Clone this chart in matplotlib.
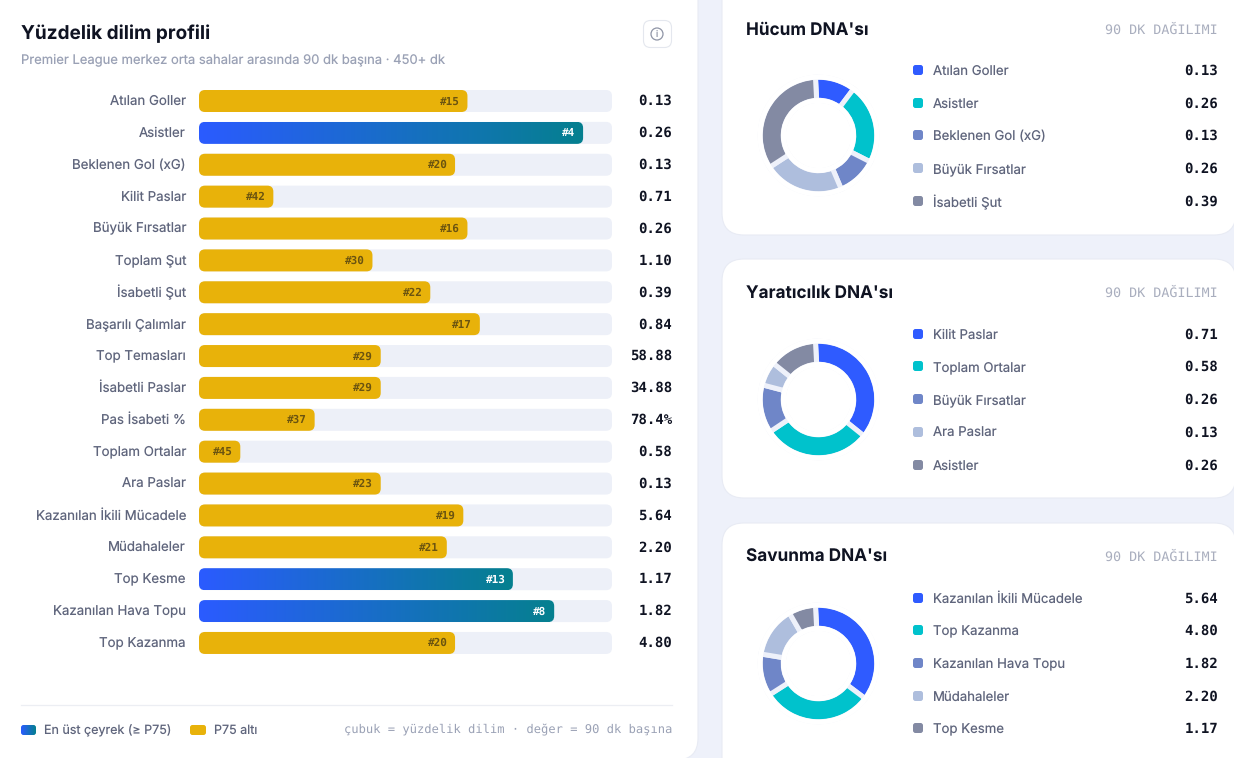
import numpy as np
import matplotlib
matplotlib.use('Agg')
from matplotlib import pyplot as plt
from matplotlib.patches import FancyBboxPatch, Circle
from matplotlib.colors import LinearSegmentedColormap
from matplotlib.transforms import ScaledTranslation

plt.rcParams['font.family'] = ['Inter', 'DejaVu Sans']
plt.rcParams['text.hinting'] = 'no_hinting'

# percentile profile
metrics = ['Atılan Goller', 'Asistler', 'Beklenen Gol (xG)', 'Kilit Paslar', 'Büyük Fırsatlar',
           'Toplam Şut', 'İsabetli Şut', 'Başarılı Çalımlar', 'Top Temasları', 'İsabetli Paslar',
           'Pas İsabeti %', 'Toplam Ortalar', 'Ara Paslar', 'Kazanılan İkili Mücadele',
           'Müdahaleler', 'Top Kesme', 'Kazanılan Hava Topu', 'Top Kazanma']
percentiles = [65, 93, 62, 18, 65, 42, 56, 68, 44, 44, 28, 10, 44, 64, 60, 76, 86, 62]
ranks = [15, 4, 20, 42, 16, 30, 22, 17, 29, 29, 37, 45, 23, 19, 21, 13, 8, 20]
per90 = ['0.13', '0.26', '0.13', '0.71', '0.26', '1.10', '0.39', '0.84', '58.88', '34.88',
         '78.4%', '0.58', '0.13', '5.64', '2.20', '1.17', '1.82', '4.80']

# DNA cards
attack_names = ['Atılan Goller', 'Asistler', 'Beklenen Gol (xG)', 'Büyük Fırsatlar', 'İsabetli Şut']
attack_vals = [0.13, 0.26, 0.13, 0.26, 0.39]
create_names = ['Kilit Paslar', 'Toplam Ortalar', 'Büyük Fırsatlar', 'Ara Paslar', 'Asistler']
create_vals = [0.71, 0.58, 0.26, 0.13, 0.26]
defend_names = ['Kazanılan İkili Mücadele', 'Top Kazanma', 'Kazanılan Hava Topu', 'Müdahaleler', 'Top Kesme']
defend_vals = [5.64, 4.80, 1.82, 2.20, 1.17]

W, H = 1234, 758
BG = '#EEF1FA'
TRACK = '#EDF0F8'
GOLD = '#E8B20A'
DARK = '#0F1322'
LABEL = '#5F657C'
MUTED = '#9AA1B5'
MONO = 'DejaVu Sans Mono'
donut_cols = ['#2F5BFF', '#00C2CC', '#6F86C8', '#AEBEDD', '#838AA3']
grad = LinearSegmentedColormap.from_list('g', ['#2B5BFF', '#05808F'])
grad_row = np.linspace(0, 1, 256).reshape(1, -1)


def px(size):
    return size * 0.72


def box_axes(x0, y0, x1, y1, **kw):
    return fig.add_axes([x0 / W, 1 - y1 / H, (x1 - x0) / W, (y1 - y0) / H], **kw)


def round_box(ax, x0, y0, w, h, r, **kw):
    p = FancyBboxPatch((x0, y0), w, h, boxstyle=f'round,pad=0,rounding_size={r}', **kw)
    ax.add_patch(p)
    return p


fig = plt.figure(figsize=(W / 100, H / 100), dpi=100, facecolor=BG)

# page layer in pixel coordinates
page = box_axes(0, 0, W, H)
page.set_xlim(0, W)
page.set_ylim(H, 0)
page.axis('off')

round_box(page, -40, -40, 738, 800, 22, fc='white', ec='#E8EBF4', lw=0.8)
for top, bottom in [(-40, 235), (259, 498), (523, 800)]:
    round_box(page, 722, top, 514, bottom - top, 22, fc='white', ec='#E8EBF4', lw=0.8)

page.text(21, 33.5, 'Yüzdelik dilim profili', fontsize=px(19), fontweight='bold', color=DARK, va='center')
page.text(21, 59.5, 'Premier League merkez orta sahalar arasında 90 dk başına · 450+ dk',
          fontsize=px(13), color=MUTED, va='center')

# info button
round_box(page, 643.5, 20.5, 28, 27, 7, fc='white', ec='#E4E7EE', lw=0.8)
page.add_patch(Circle((657, 34), 6, fc='none', ec='#8F95A6', lw=0.9))
page.text(657, 34.3, 'i', fontsize=px(9), color='#8F95A6', ha='center', va='center')

# footer
page.plot([21, 672], [705, 705], color='#ECEEF3', lw=0.9)
sw = round_box(page, 21, 725, 15, 10, 2.5, fc='none', ec='none')
im = page.imshow(grad_row, cmap=grad, extent=(21, 36, 735, 725), aspect='auto', zorder=2)
im.set_clip_path(sw)
page.set_xlim(0, W)
page.set_ylim(H, 0)
page.text(44, 729.5, 'En üst çeyrek (≥ P75)', fontsize=px(12.5), color=LABEL, va='center_baseline')
round_box(page, 190, 725, 16, 10, 2.5, fc=GOLD, ec='none')
page.text(214, 729.5, 'P75 altı', fontsize=px(12.5), color=LABEL, va='center_baseline')
page.text(672, 730.5, 'çubuk = yüzdelik dilim · değer = 90 dk başına', family=MONO,
          fontsize=px(12.1), color=MUTED, ha='right', va='center')

# percentile bars
ROW0, STEP = 101, 31.88
ax = box_axes(199, ROW0 - STEP / 2, 612, ROW0 + 17.5 * STEP, zorder=2)
ax.patch.set_alpha(0)
ax.set_xlim(0, 100)
ax.set_ylim(17.5, -0.5)
for s in ax.spines.values():
    s.set_visible(False)
ax.set_xticks([])
ax.set_yticks(range(len(metrics)))
ax.set_yticklabels(metrics, fontsize=px(13.3), color=LABEL)
ax.tick_params(axis='y', length=0, pad=px(13))
# nudge the labels up a pixel
nudge = ScaledTranslation(0, 1 / 100, fig.dpi_scale_trans)
for lab in ax.get_yticklabels():
    lab.set_transform(lab.get_transform() + nudge)

x_px = 413 / 100
bar_h = 22 / STEP
r_x = 6 / x_px
aspect = x_px / STEP
for i, (pct, rank, val) in enumerate(zip(percentiles, ranks, per90)):
    y = i - bar_h / 2
    round_box(ax, 0, y, 100, bar_h, r_x, fc=TRACK, ec='none', mutation_aspect=aspect)
    top_quarter = pct >= 75
    if top_quarter:
        b = round_box(ax, 0, y, pct, bar_h, r_x, fc='none', ec='none', mutation_aspect=aspect, zorder=2)
        g = ax.imshow(grad_row, cmap=grad, extent=(0, pct, y + bar_h, y), aspect='auto', zorder=2)
        g.set_clip_path(b)
    else:
        round_box(ax, 0, y, pct, bar_h, r_x, fc=GOLD, ec='none', mutation_aspect=aspect, zorder=2)
    ax.text(pct - 7.5 / x_px, i + 0.01, f'#{rank}', family=MONO, fontweight='bold', fontsize=px(11),
            color='white' if top_quarter else '#6B5410', ha='right', va='center', zorder=3)
    ax.text(100 + 60 / x_px, i + 0.01, val, family=MONO, fontweight='bold', fontsize=px(14),
            color=DARK, ha='right', va='center', clip_on=False)
ax.set_xlim(0, 100)
ax.set_ylim(17.5, -0.5)

# DNA cards
cards = [("Hücum DNA'sı", attack_names, attack_vals, 30, 135.5, [70, 103, 135, 168, 201]),
         ("Yaratıcılık DNA'sı", create_names, create_vals, 293, 399.5, [334, 366, 399, 432, 465]),
         ("Savunma DNA'sı", defend_names, defend_vals, 557, 663.5, [598, 630, 663, 696, 728])]
for title, names, vals, title_y, cy, rows in cards:
    page.text(746, title_y, title, fontsize=px(17.2), fontweight='bold', color=DARK, va='center')
    page.text(1218, title_y, '90 DK DAĞILIMI', family=MONO, fontsize=px(13.4), color='#A9AEBE',
              ha='right', va='center')
    pie_ax = box_axes(818.5 - 62, cy - 62, 818.5 + 62, cy + 62, zorder=2)
    # the gap trails each slice, so the first slice starts right at 12 o'clock
    pie_ax.pie(vals, colors=donut_cols, startangle=93, counterclock=False, radius=58.25,
               wedgeprops=dict(width=23, edgecolor=BG, linewidth=px(5)))
    # hide the rim of the wedge stroke so only the gaps stay light
    pie_ax.add_patch(Circle((0, 0), 58.5, fc='none', ec='white', lw=px(5), zorder=5))
    pie_ax.add_patch(Circle((0, 0), 35, fc='none', ec='white', lw=px(5), zorder=5))
    pie_ax.set_xlim(-62, 62)
    pie_ax.set_ylim(-62, 62)
    for name, val, col, y in zip(names, vals, donut_cols, rows):
        round_box(page, 913, y - 5, 10, 10, 2.5, fc=col, ec='none')
        page.text(933, y, name, fontsize=px(13.2), color=LABEL, va='center_baseline')
        page.text(1218, y + 0.7, f'{val:.2f}', family=MONO, fontweight='bold', fontsize=px(14), color=DARK,
                  ha='right', va='center')

fig.savefig('out.png', dpi=100, facecolor=BG)
